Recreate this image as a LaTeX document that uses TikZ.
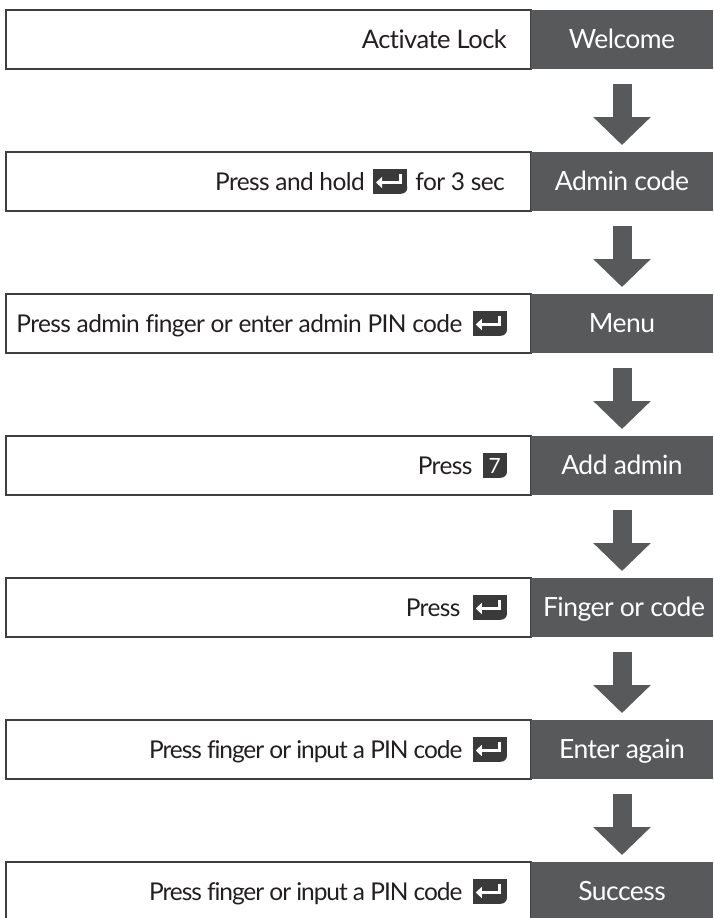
\documentclass[tikz,border=0pt]{standalone}
\usepackage{fontspec}
\setmainfont[Ligatures=NoCommon]{Lato}
\usetikzlibrary{arrows.meta,calc}
\definecolor{darkboxc}{HTML}{58595B}
\definecolor{keyc}{HTML}{3A3A3B}
\definecolor{edgec}{HTML}{3F3F40}
\definecolor{txtc}{HTML}{231F20}
\newcommand\keybg[1]{%
  \fill[keyc] (#1.north west) rectangle ([xshift=-6pt]#1.south east);
  \fill[keyc] (#1.north west) rectangle ([yshift=6pt]#1.south east);
  \fill[keyc] ([xshift=-6pt,yshift=6pt]#1.south east) circle[radius=6pt];}
\newcommand\enterkey[1]{%
  \keybg{#1}
  \draw[white, line width=3pt, -{Triangle[width=11pt,length=6pt]}]
    ([xshift=10pt,yshift=8pt]#1.center) -- ([xshift=10pt,yshift=-1pt]#1.center) -- ([xshift=-14pt,yshift=-1pt]#1.center);}
\begin{document}
\begin{tikzpicture}[x=1pt,y=-1pt,
  rowbox/.style={draw=edgec, line width=1.2pt, minimum width=525pt, minimum height=59pt, anchor=north west, inner sep=0pt, outer sep=0pt},
  darkbox/.style={fill=darkboxc, minimum width=182pt, minimum height=59pt, anchor=north west, inner sep=0pt, outer sep=0pt},
  dlbl/.style={anchor=base, inner sep=0pt, text=white, font=\fontsize{26.5}{30}\selectfont\addfontfeatures{LetterSpace=-2}},
  lbl/.style={anchor=base east, inner sep=0pt, text=txtc, font=\fontsize{24.5}{28}\selectfont\addfontfeatures{LetterSpace=-2.5}},
  tightlbl/.style={lbl, font=\fontsize{24.5}{28}\selectfont\addfontfeatures{LetterSpace=-4.4}},
  keynode/.style={minimum width=34pt, minimum height=24pt, inner sep=0pt, anchor=east},
  sevenkey/.style={minimum width=24pt, minimum height=24pt, inner sep=0pt, anchor=east},
  flow/.style={draw=darkboxc, line width=19pt, -{Triangle[width=56pt,length=28pt]}},
]
\useasboundingbox (0,0) rectangle (713,918);
% rows
\foreach \i/\t in {1/10,2/152,3/294,4/436,5/578,6/720,7/862}{
  \node[rowbox] (r\i) at (6,\t) {};
  \node[darkbox] (d\i) at (531,\t) {};
}
% dark labels
\node[dlbl] (w1) at ($(d1.center)+(0,9)$) {Welcome};
\node[dlbl] (w2) at ($(d2.center)+(0,9)$) {Admin code};
\node[dlbl] (w3) at ($(d3.center)+(0,9)$) {Menu};
\node[dlbl] (w4) at ($(d4.center)+(0,9)$) {Add admin};
\node[dlbl] (w5) at ($(d5.center)+(2,9)$) {Finger or code};
\node[dlbl] (w6) at ($(d6.center)+(0,9)$) {Enter again};
\node[dlbl] (w7) at ($(d7.center)+(0,9)$) {Success};
% row 1
\node[lbl, font=\fontsize{25.5}{28}\selectfont\addfontfeatures{LetterSpace=-2}] (t1) at (507,48) {Activate Lock};
% row 2
\node[lbl] (t2c) at (505,190) {for 3 sec};
\path (t2c.west |- r2.east) ++(-8,0) node[keynode] (k2) {};
\enterkey{k2}
\path (k2.west |- t2c.base) ++(-8,0) node[lbl] (t2a) {Press and hold};
% row 3
\node[keynode] (k3) at (507,323.5) {};
\enterkey{k3}
\path (k3.west) ++(-10,8.5) node[lbl] (t3) {Press admin finger or enter admin PIN code};
% row 4
\node[sevenkey] (k4) at (507,465.5) {};
\keybg{k4}
\node[inner sep=0pt, text=white, font=\fontsize{21}{24}\selectfont] at (k4.center) {7};
\path (k4.west) ++(-10,8.5) node[lbl] (t4) {Press};
% row 5
\node[keynode] (k5) at (507,607.5) {};
\enterkey{k5}
\path (k5.west) ++(-12,8.5) node[lbl] (t5) {Press};
% row 6
\node[keynode] (k6) at (507,749.5) {};
\enterkey{k6}
\path (k6.west) ++(-10,8.5) node[tightlbl] (t6) {Press finger or input a PIN code};
% row 7
\node[keynode] (k7) at (507,891.5) {};
\enterkey{k7}
\path (k7.west) ++(-10,8.5) node[tightlbl] (t7) {Press finger or input a PIN code};
% arrows
\foreach \a/\b in {1/2,2/3,3/4,4/5,5/6,6/7}{
  \draw[flow] ([yshift=-15pt]d\a.south) -- ([yshift=7pt]d\b.north);
}
\end{tikzpicture}
\end{document}
